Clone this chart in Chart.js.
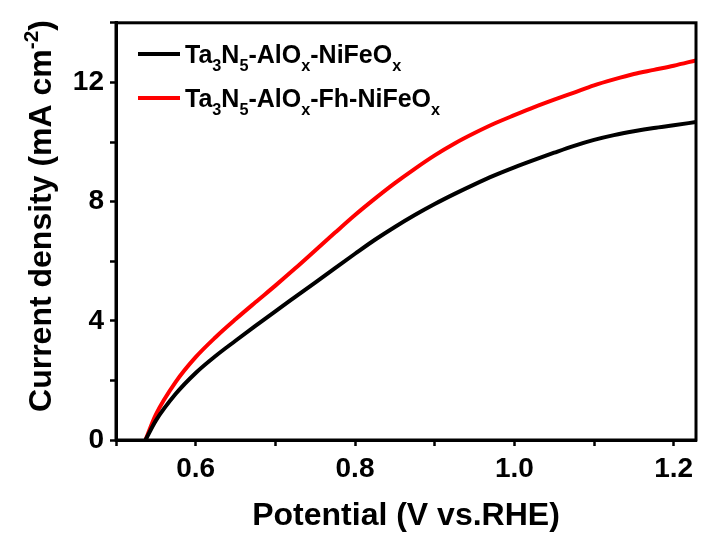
<!DOCTYPE html>
<html>
<head>
<meta charset="utf-8">
<script src="https://cdn.jsdelivr.net/npm/chart.js@4.4.0/dist/chart.umd.min.js"></script>
<style>
  html, body { margin: 0; padding: 0; background: #fff; }
  #wrap { width: 702px; height: 535px; }
</style>
</head>
<body>
<div id="wrap"><canvas id="lsv" width="702" height="535"></canvas></div>
<script>
// potential axis (V vs. RHE)
const potential = [0.537, 0.55, 0.575, 0.60, 0.625, 0.65, 0.675, 0.70, 0.725, 0.75, 0.775, 0.80, 0.825, 0.85, 0.875, 0.90, 0.925, 0.95, 0.975, 1.00, 1.025, 1.05, 1.075, 1.10, 1.125, 1.15, 1.175, 1.20, 1.228];
// current density (mA cm-2)
const currentNiFeOx = [0, 0.65, 1.55, 2.25, 2.82, 3.33, 3.83, 4.32, 4.8, 5.28, 5.77, 6.25, 6.72, 7.15, 7.55, 7.92, 8.26, 8.58, 8.88, 9.15, 9.4, 9.64, 9.87, 10.07, 10.23, 10.36, 10.47, 10.56, 10.67];
const currentFhNiFeOx = [0, 0.85, 1.95, 2.78, 3.45, 4.05, 4.62, 5.18, 5.76, 6.36, 6.96, 7.55, 8.1, 8.62, 9.1, 9.55, 9.95, 10.3, 10.62, 10.9, 11.17, 11.42, 11.66, 11.9, 12.1, 12.28, 12.42, 12.56, 12.74];

// legend names, split into plain / subscript pieces
const seriesNames = [
  [['Ta', ''], ['3', 'sub'], ['N', ''], ['5', 'sub'], ['-AlO', ''], ['x', 'sub'], ['-NiFeO', ''], ['x', 'sub']],
  [['Ta', ''], ['3', 'sub'], ['N', ''], ['5', 'sub'], ['-AlO', ''], ['x', 'sub'], ['-Fh-NiFeO', ''], ['x', 'sub']]
];
const seriesColors = ['#000000', '#ff0000'];
const yTitle = [['Current density (mA cm', ''], ['-2', 'sup'], [')', '']];
const xTitle = 'Potential (V vs.RHE)';

const FONT = '"Liberation Sans", Arial, sans-serif';

function richWidth(ctx, parts, size) {
  let w = 0;
  parts.forEach(([t, k]) => {
    ctx.font = 'bold ' + (k ? size * 0.65 : size) + 'px ' + FONT;
    w += ctx.measureText(t).width;
  });
  return w;
}

function drawRich(ctx, parts, x, y, size) {
  parts.forEach(([t, k]) => {
    ctx.font = 'bold ' + (k ? size * 0.65 : size) + 'px ' + FONT;
    let dy = 0;
    if (k === 'sub') dy = size * 0.3;
    if (k === 'sup') dy = -size * 0.42;
    ctx.fillText(t, x, y + dy);
    x += ctx.measureText(t).width;
  });
}

const extras = {
  id: 'extras',
  afterDraw(chart) {
    const ctx = chart.ctx;
    const a = chart.chartArea;
    ctx.save();
    // box around the plot
    ctx.strokeStyle = '#000';
    ctx.lineWidth = 3;
    ctx.strokeRect(a.left, a.top, a.right - a.left, a.bottom - a.top);

    // legend
    ctx.textBaseline = 'alphabetic';
    ctx.textAlign = 'left';
    const rows = [63, 107];
    seriesNames.forEach((parts, i) => {
      ctx.strokeStyle = seriesColors[i];
      ctx.lineWidth = 4;
      ctx.beginPath();
      ctx.moveTo(138, rows[i] - 9);
      ctx.lineTo(180, rows[i] - 9);
      ctx.stroke();
      ctx.fillStyle = '#000';
      drawRich(ctx, parts, 185, rows[i], 25);
    });

    // y axis title with superscript
    const size = 32;
    const w = richWidth(ctx, yTitle, size);
    ctx.translate(51, 216);
    ctx.rotate(-Math.PI / 2);
    ctx.fillStyle = '#000';
    drawRich(ctx, yTitle, -w / 2, 0, size);
    ctx.restore();
  }
};

const tickFont = { family: FONT, size: 28, weight: 'bold' };

new Chart(document.getElementById('lsv'), {
  type: 'line',
  data: {
    datasets: [
      {
        label: 'Ta3N5-AlOx-NiFeOx',
        data: potential.map((v, i) => ({ x: v, y: currentNiFeOx[i] })),
        borderColor: seriesColors[0],
        borderWidth: 4,
        pointRadius: 0,
        cubicInterpolationMode: 'monotone',
        fill: false
      },
      {
        label: 'Ta3N5-AlOx-Fh-NiFeOx',
        data: potential.map((v, i) => ({ x: v, y: currentFhNiFeOx[i] })),
        borderColor: seriesColors[1],
        borderWidth: 4,
        pointRadius: 0,
        cubicInterpolationMode: 'monotone',
        fill: false
      }
    ]
  },
  options: {
    responsive: false,
    animation: false,
    layout: { padding: { top: 15, right: 6, left: 0, bottom: 0 } },
    plugins: { legend: { display: false }, tooltip: { enabled: false } },
    scales: {
      x: {
        type: 'linear',
        min: 0.5,
        max: 1.228,
        afterFit(scale) { scale.height = 95; },
        border: { display: true, color: '#000', width: 3 },
        grid: { drawOnChartArea: false, drawTicks: true, tickLength: 6, tickWidth: 2.5, tickColor: '#000' },
        ticks: {
          stepSize: 0.1,
          includeBounds: false,
          color: '#000',
          font: tickFont,
          padding: 6,
          maxRotation: 0,
          autoSkip: false,
          callback: (v) => {
            const n = Math.round(v * 10);
            return (n % 2 === 0 && n >= 6) ? (n / 10).toFixed(1) : '';
          }
        },
        title: { display: true, text: xTitle, color: '#000', font: { family: FONT, size: 32, weight: 'bold' }, padding: { top: 0, bottom: 0 } }
      },
      y: {
        min: 0,
        max: 14,
        afterFit(scale) { scale.width = 116; },
        border: { display: true, color: '#000', width: 3 },
        grid: { drawOnChartArea: false, drawTicks: true, tickLength: 6, tickWidth: 2.5, tickColor: '#000' },
        ticks: {
          stepSize: 2,
          color: '#000',
          font: tickFont,
          padding: 6,
          autoSkip: false,
          callback: (v) => (v % 4 === 0 && v < 14) ? String(v) : ''
        }
      }
    }
  },
  plugins: [extras]
});
</script>
</body>
</html>
